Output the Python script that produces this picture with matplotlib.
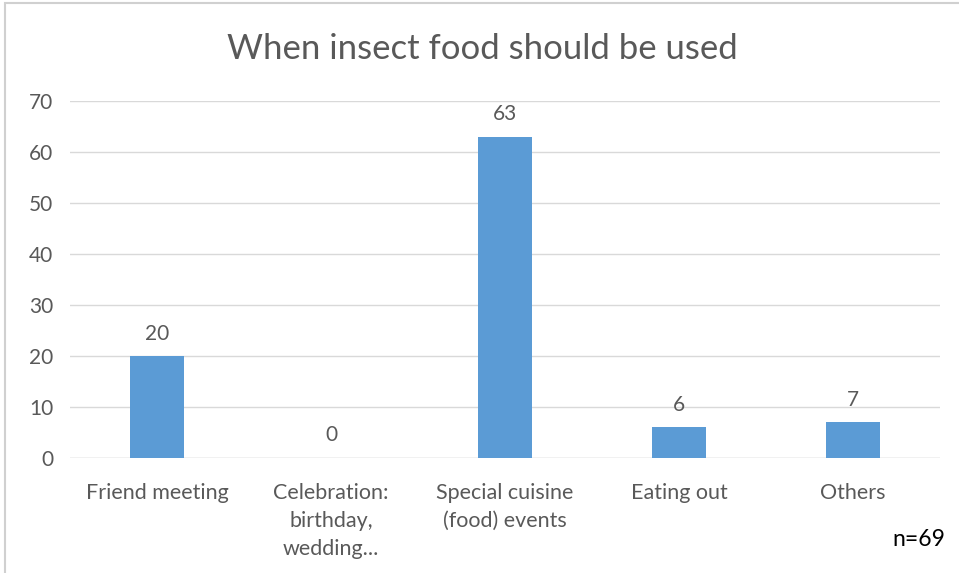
import matplotlib.pyplot as plt
from matplotlib.patches import Rectangle

# Data
categories = ["Friend meeting", "Celebration:\nbirthday,\nwedding...",
              "Special cuisine\n(food) events", "Eating out", "Others"]
values = [20, 0, 63, 6, 7]
y_ticks = [0, 10, 20, 30, 40, 50, 60, 70]

plt.rcParams['font.family'] = ['Lato', 'DejaVu Sans']

fig = plt.figure(figsize=(9.59, 5.73), dpi=100)
ax = fig.add_axes([0.073, 0.2007, 0.907, 0.623])

bar_color = '#5B9BD5'
text_color = '#595959'

x = range(len(categories))
ax.bar(x, values, width=0.31, color=bar_color, zorder=3)

for i, v in enumerate(values):
    ax.annotate(str(v), (i, v), textcoords="offset points", xytext=(0, 9),
                ha='center', va='bottom', fontsize=15, color=text_color)

ax.set_xlim(-0.5, len(categories) - 0.5)
ax.set_ylim(0, 70)
ax.set_yticks(y_ticks)
ax.set_xticks(list(x))
ax.set_xticklabels(categories, fontsize=15.5, color=text_color, linespacing=1.5)
ax.tick_params(axis='y', labelsize=15, labelcolor=text_color, length=0, pad=12)
ax.tick_params(axis='x', length=0, pad=18)
ax.yaxis.grid(True, color='#D9D9D9', linewidth=1, zorder=0)
for s in ax.spines.values():
    s.set_visible(False)
ax.axhline(0, color='#D9D9D9', linewidth=1, zorder=2)

fig.text(0.503, 0.915, "When insect food should be used", ha='center', va='center',
         fontsize=25, color=text_color)
fig.text(0.986, 0.058, "n=69", ha='right', va='center', fontsize=16.5, color='black')

# light outer border
fig.patches.append(Rectangle((0.005, -0.01), 1.2, 1.005, transform=fig.transFigure,
                             fill=False, edgecolor='#D0D0D0', linewidth=1.5))

fig.savefig("out.png", dpi=100)
